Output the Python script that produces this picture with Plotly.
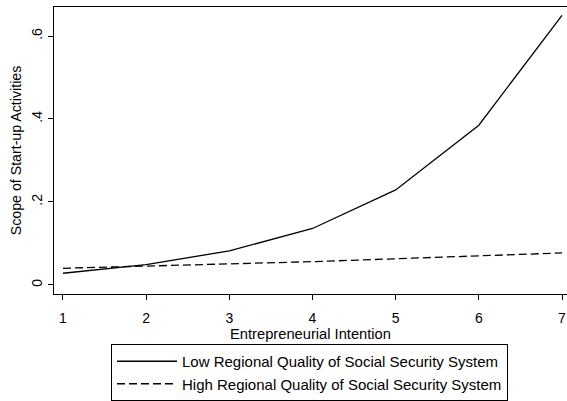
import plotly.graph_objects as go

intention = [1, 2, 3, 4, 5, 6, 7]
low_quality = [0.028, 0.049, 0.082, 0.136, 0.229, 0.385, 0.650]
high_quality = [0.040, 0.045, 0.050, 0.056, 0.063, 0.070, 0.077]
y_ticks = [0, 0.2, 0.4, 0.6]
y_tick_labels = ["0", ".2", ".4", ".6"]

FONT = "Liberation Sans, Arial, sans-serif"

fig = go.Figure()
fig.add_trace(go.Scatter(x=intention, y=low_quality, mode="lines",
                         name="Low Regional Quality of Social Security System",
                         line=dict(color="black", width=1.3)))
fig.add_trace(go.Scatter(x=intention, y=high_quality, mode="lines",
                         name="High Regional Quality of Social Security System",
                         line=dict(color="black", width=1.3, dash="8px,4px")))

fig.update_layout(
    width=567, height=401,
    margin=dict(l=54, r=0, t=7, b=97),
    paper_bgcolor="white", plot_bgcolor="white",
    font=dict(family=FONT, size=14, color="black"),
    showlegend=True,
    legend=dict(x=(111 - 54) / 513, y=-0.176, xanchor="left", yanchor="top",
                bordercolor="black", borderwidth=1, itemwidth=60,
                font=dict(size=15), tracegroupgap=0),
    xaxis=dict(range=[0.892, 7.06], tickvals=intention, ticks="outside",
               ticklen=5, tickcolor="black", showline=True, linecolor="black",
               linewidth=1.3, mirror=True, showgrid=False, zeroline=False,
               ticklabelstandoff=6,
               title=dict(text="Entrepreneurial Intention", standoff=0,
                          font=dict(size=14.7)),
               tickfont=dict(size=14)),
    yaxis=dict(range=[-0.022, 0.670], tickvals=y_ticks, ticktext=y_tick_labels,
               tickangle=-90, ticks="outside", ticklen=5, tickcolor="black",
               showline=True, linecolor="black", linewidth=1.3,
               showgrid=False, zeroline=False,
               title=dict(text="Scope of Start-up Activities", standoff=4,
                          font=dict(size=14.2)),
               tickfont=dict(size=14)),
)

fig.write_html("out.html")
